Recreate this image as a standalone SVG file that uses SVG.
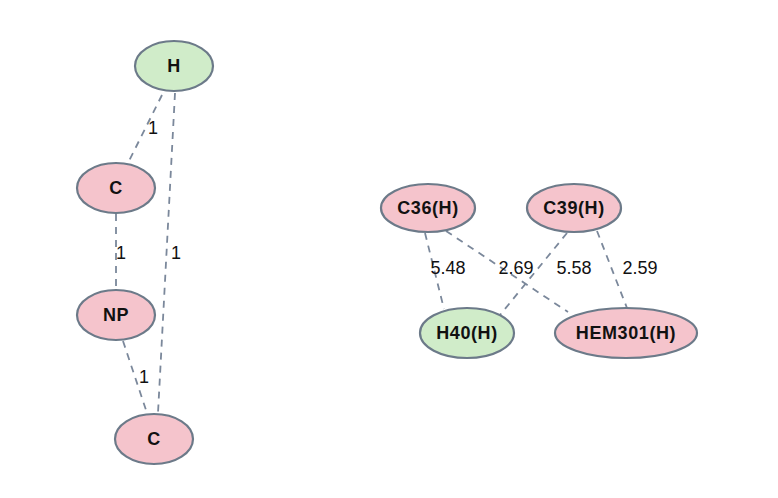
<svg xmlns="http://www.w3.org/2000/svg" width="778" height="498" viewBox="0 0 778 498">
<style>
.n ellipse{stroke:#6c7a89;stroke-width:2.2}
.pink{fill:#f5c4cc}
.green{fill:#d0ecc9}
.n text{font-family:"Liberation Sans",Arial,sans-serif;font-size:18px;letter-spacing:0.6px;font-weight:bold;fill:#111;text-anchor:middle;dominant-baseline:central}
#edges line{stroke:#7b889b;stroke-width:1.8;stroke-dasharray:7,6}
#edges text{font-family:"Liberation Sans",Arial,sans-serif;font-size:18px;fill:#111;text-anchor:middle;dominant-baseline:central}
</style>
<rect width="778" height="498" fill="#fff"/>
<g id="edges">
<line x1="162" y1="95" x2="128" y2="163"/>
<line x1="116" y1="214" x2="116" y2="290"/>
<line x1="175" y1="93" x2="158" y2="413"/>
<line x1="123" y1="341" x2="147" y2="413"/>
<line x1="425" y1="233" x2="444" y2="309"/>
<line x1="446" y1="231" x2="568" y2="312"/>
<line x1="567" y1="233" x2="500" y2="315"/>
<line x1="597" y1="231" x2="627" y2="308"/>
<text x="153" y="128">1</text>
<text x="121" y="253">1</text>
<text x="176" y="253">1</text>
<text x="144" y="377">1</text>
<text x="448" y="268">5.48</text>
<text x="516" y="268">2.69</text>
<text x="574" y="268">5.58</text>
<text x="640" y="268">2.59</text>
</g>
<g id="nH" class="n"><ellipse class="green" cx="174" cy="66" rx="39" ry="25"/><text x="174" y="66">H</text></g>
<g id="nC1" class="n"><ellipse class="pink" cx="116" cy="188" rx="39" ry="25"/><text x="116" y="188">C</text></g>
<g id="nNP" class="n"><ellipse class="pink" cx="116" cy="315" rx="39" ry="25"/><text x="116" y="315">NP</text></g>
<g id="nC2" class="n"><ellipse class="pink" cx="154" cy="439" rx="39" ry="25"/><text x="154" y="439">C</text></g>
<g id="nC36" class="n"><ellipse class="pink" cx="428" cy="208" rx="47" ry="24"/><text x="428" y="208">C36(H)</text></g>
<g id="nC39" class="n"><ellipse class="pink" cx="574" cy="208" rx="47" ry="24"/><text x="574" y="208">C39(H)</text></g>
<g id="nH40" class="n"><ellipse class="green" cx="467" cy="333" rx="47" ry="25"/><text x="467" y="333">H40(H)</text></g>
<g id="nHEM" class="n"><ellipse class="pink" cx="626" cy="333" rx="71" ry="25"/><text x="626" y="333">HEM301(H)</text></g>
</svg>
